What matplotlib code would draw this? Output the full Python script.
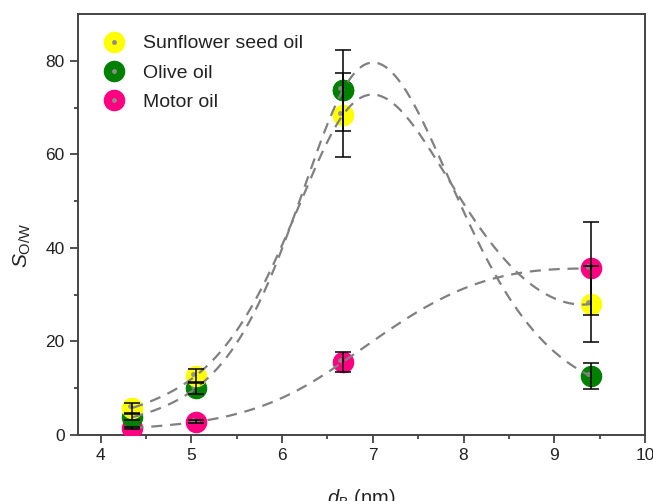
import numpy as np
import matplotlib.pyplot as plt
import matplotlib.transforms as mtransforms
from matplotlib.lines import Line2D
from matplotlib.legend_handler import HandlerTuple

plt.rcParams['font.family'] = ['Liberation Sans', 'DejaVu Sans']
plt.rcParams['mathtext.fontset'] = 'custom'
plt.rcParams['mathtext.it'] = 'Liberation Sans:italic'
plt.rcParams['mathtext.rm'] = 'Liberation Sans'

# Data
dB = np.array([4.35, 5.05, 6.67, 9.4])
sunflower = np.array([5.8, 12.7, 68.4, 28.0])
sunflower_err = np.array([1.1, 1.4, 9.0, 8.1])
olive = np.array([3.8, 10.0, 73.7, 12.6])
olive_err = np.array([0.6, 1.2, 8.7, 2.8])
motor = np.array([1.5, 2.8, 15.6, 35.6])
motor_err = np.array([0.3, 0.3, 2.1, 10.0])

labels = ['Sunflower seed oil', 'Olive oil', 'Motor oil']
colors = ['#ffff00', '#008000', '#ff0080']
# slope of ln(S) at the right end of each guide curve
end_slope = [0.1, -0.75, 0.0]


def spline(x, y, s1, n=300):
    # cubic spline, natural at the left end, given slope at the right end
    h = np.diff(x)
    k = len(x)
    A = np.zeros((k, k))
    b = np.zeros(k)
    d = np.diff(y) / h
    A[0, 0] = 1.0
    for i in range(1, k - 1):
        A[i, i - 1], A[i, i], A[i, i + 1] = h[i - 1], 2 * (h[i - 1] + h[i]), h[i]
        b[i] = 6 * (d[i] - d[i - 1])
    A[-1, -2], A[-1, -1] = h[-1], 2 * h[-1]
    b[-1] = 6 * (s1 - d[-1])
    M = np.linalg.solve(A, b)
    xs = np.linspace(x[0], x[-1], n)
    i = np.clip(np.searchsorted(x, xs) - 1, 0, k - 2)
    hi = h[i]
    a = x[i + 1] - xs
    c = xs - x[i]
    ys = (M[i] * a ** 3 + M[i + 1] * c ** 3) / (6 * hi) \
        + (y[i] - M[i] * hi ** 2 / 6) * a / hi + (y[i + 1] - M[i + 1] * hi ** 2 / 6) * c / hi
    return xs, ys


fig = plt.figure(figsize=(6.53, 5.01), dpi=100)
ax = fig.add_axes([78 / 653, 66 / 501, 567 / 653, 421 / 501])

series = [(sunflower, sunflower_err, colors[0], end_slope[0]),
          (olive, olive_err, colors[1], end_slope[1]),
          (motor, motor_err, colors[2], end_slope[2])]
dot = mtransforms.offset_copy(ax.transData, fig=fig, x=-2.5, y=2, units='dots')
for y, e, c, s in series[::-1]:
    ax.plot(dB, y, 'o', ms=14.5, color=c, mec=c, zorder=3)
    ax.plot(dB, y, 'o', ms=3.5, color='#8c8c8c', mec='none', alpha=0.9, zorder=3, transform=dot)
# olive sits on top of sunflower at the 6.67 nm point
ax.plot(dB[2:3], olive[2:3], 'o', ms=14.5, color=colors[1], mec=colors[1], zorder=3.1)
ax.plot(dB[2:3], olive[2:3], 'o', ms=3.5, color='#8c8c8c', mec='none', alpha=0.9, zorder=3.1, transform=dot)

for y, e, c, s in series:
    xs, ys = spline(dB, np.log(y), s)
    ax.plot(xs, np.exp(ys), '--', color='#808080', lw=1.6, dashes=(5, 3.5), zorder=4)

for y, e, c, s in series:
    ax.errorbar(dB, y, yerr=e, fmt='none', ecolor='black', elinewidth=1.1,
                capsize=6, capthick=1.1, zorder=5)

ax.set_xlim(3.75, 10)
ax.set_ylim(0, 90)
ax.set_xticks([4, 5, 6, 7, 8, 9, 10])
ax.set_xticks(np.arange(4.5, 10, 1), minor=True)
ax.set_yticks([0, 20, 40, 60, 80])
ax.set_yticks([10, 30, 50, 70], minor=True)
ax.tick_params(which='major', length=6, width=1.2, labelsize=12.5, colors='#333333', labelcolor='#222222')
ax.tick_params(which='minor', length=3, width=1.2, colors='#333333')
for sp in ax.spines.values():
    sp.set_linewidth(1.4)
    sp.set_color('#444444')

ax.set_xlabel(r'$d_{\mathrm{B}}$ (nm)', fontsize=14.5, color='#222222', labelpad=17)
ax.set_ylabel(r'$S_{\mathrm{O/W}}$', fontsize=15, color='#222222')
ax.yaxis.set_label_coords(-0.079, 0.45)

handles = []
for c in colors:
    big = Line2D([], [], marker='o', ls='none', ms=14.5, color=c, mec=c)
    small = Line2D([], [], marker='o', ls='none', ms=3.5, color='#8c8c8c', mec='none')
    handles.append((big, small))
ax.legend(handles, labels, handler_map={tuple: HandlerTuple(ndivide=1, pad=0)}, loc='upper left',
          bbox_to_anchor=(0.0, 1.013), frameon=False, fontsize=14, handlelength=1.0,
          handletextpad=1.0, labelspacing=0.6, borderpad=0.45, borderaxespad=0.9,
          labelcolor='#222222')

fig.savefig('out.png', dpi=100)
